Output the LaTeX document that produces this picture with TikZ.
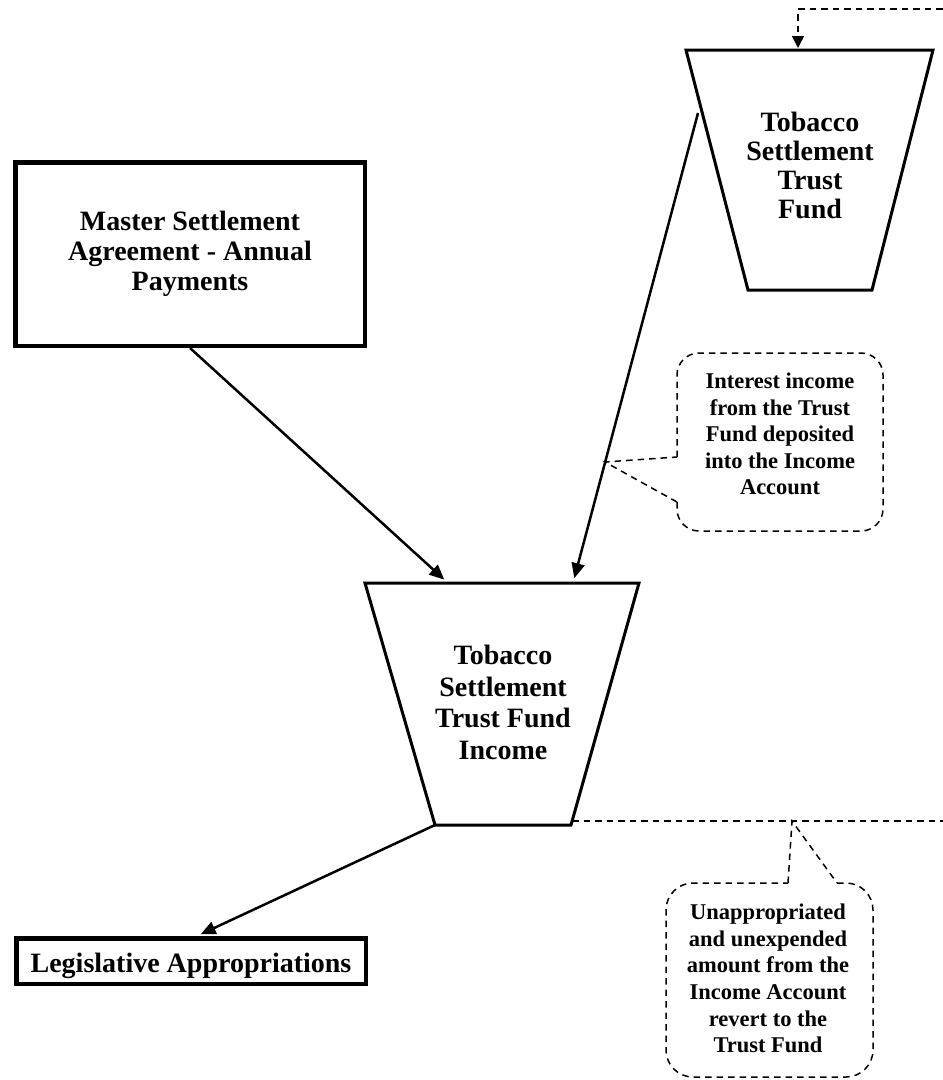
\documentclass[tikz,border=0pt]{standalone}
\usepackage{fontspec}
\setmainfont{Liberation Serif}
\usetikzlibrary{arrows.meta}
\begin{document}
\begin{tikzpicture}[x=1pt,y=-1pt,
  bigtext/.style={font=\fontsize{28}{30}\selectfont\bfseries, align=center, inner sep=0pt},
  notetext/.style={font=\fontsize{22.5}{26.6}\selectfont\bfseries, align=center, inner sep=0pt},
  heavybox/.style={draw, line width=4.5pt, minimum width=349.5pt, inner sep=0pt},
  fundshape/.style={draw, line width=3pt, line join=miter},
  flow/.style={line width=2.5pt, -{Triangle[length=15pt,width=13pt]}},
  dashline/.style={line width=1.5pt, dash pattern=on 6.5pt off 5pt},
  returntip/.style={-{Triangle[length=12pt,width=12pt]}},
]
\useasboundingbox (0,0) rectangle (943,1080);

% Source of the annual payments
\node[heavybox, minimum height=183.5pt, bigtext] (msa) at (190,254)
  {Master Settlement\\Agreement - Annual\\Payments};

% Destination box
\node[heavybox, minimum height=45.5pt, bigtext, text height=25pt, text depth=3pt] (leg) at (191,961)
  {Legislative Appropriations};

% Trust Fund bucket
\coordinate (tf-a) at (686,50);
\coordinate (tf-b) at (933,50);
\coordinate (tf-c) at (872,290);
\coordinate (tf-d) at (748,290);
\draw[fundshape] (tf-a) -- (tf-b) -- (tf-c) -- (tf-d) -- cycle;
\node[bigtext, font=\fontsize{28}{29}\selectfont\bfseries] (tf) at (810,165.5)
  {Tobacco\\Settlement\\Trust\\Fund};

% Income Account bucket
\coordinate (tfi-a) at (365,583);
\coordinate (tfi-b) at (639,583);
\coordinate (tfi-c) at (571,825);
\coordinate (tfi-d) at (435,825);
\draw[fundshape] (tfi-a) -- (tfi-b) -- (tfi-c) -- (tfi-d) -- cycle;
\node[bigtext, font=\fontsize{28}{31.5}\selectfont\bfseries] (tfi) at (503,702.5)
  {Tobacco\\Settlement\\Trust Fund\\Income};

% Flow connectors
\coordinate (tf-out) at (698,113);
\coordinate (tfi-in1) at (448,583);
\coordinate (tfi-in2) at (573,583);
\coordinate (tfi-out) at (572,821);
\draw[flow, shorten >=5pt] (msa.south) -- (tfi-in1);
\draw[flow, shorten >=5pt] (tf-out) -- (tfi-in2);
\draw[flow, shorten >=4pt] (tfi-d) -- ([xshift=6pt]leg.north);

% Reversion path back to the Trust Fund (runs past the page edge)
\coordinate (rev-out) at (955,821);
\coordinate (rev-top) at (955,9);
\coordinate (rev-turn) at (798,9);
\coordinate (tf-in) at (798,48);
\begin{scope}
  \clip (0,0) rectangle (943,1080);
  \draw[dashline, returntip] (tfi-out) -- (rev-out) -- (rev-top) -- (rev-turn) -- (tf-in);
\end{scope}

% Callout: interest income
\coordinate (n1-tip) at (605,462);
\draw[dashline, rounded corners=22pt] (677,457) -- (677,353) -- (883,353) -- (883,531) -- (677,531) -- (677,502);
\draw[dashline] (677,502) -- (n1-tip) -- (677,457);
\node[notetext] (n1) at (780,434)
  {Interest income\\from the Trust\\Fund deposited\\into the Income\\Account};

% Callout: reversion of unexpended income
\coordinate (n2-tip) at (792,821);
\draw[dashline, rounded corners=27pt] (837,883) -- (873,883) -- (873,1077) -- (666,1077) -- (666,883) -- (788,883);
\draw[dashline] (788,883) -- (n2-tip) -- (837,883);
\node[notetext] (n2) at (768,978.5)
  {Unappropriated\\and unexpended\\amount from the\\Income Account\\revert to the\\Trust Fund};
\end{tikzpicture}
\end{document}
